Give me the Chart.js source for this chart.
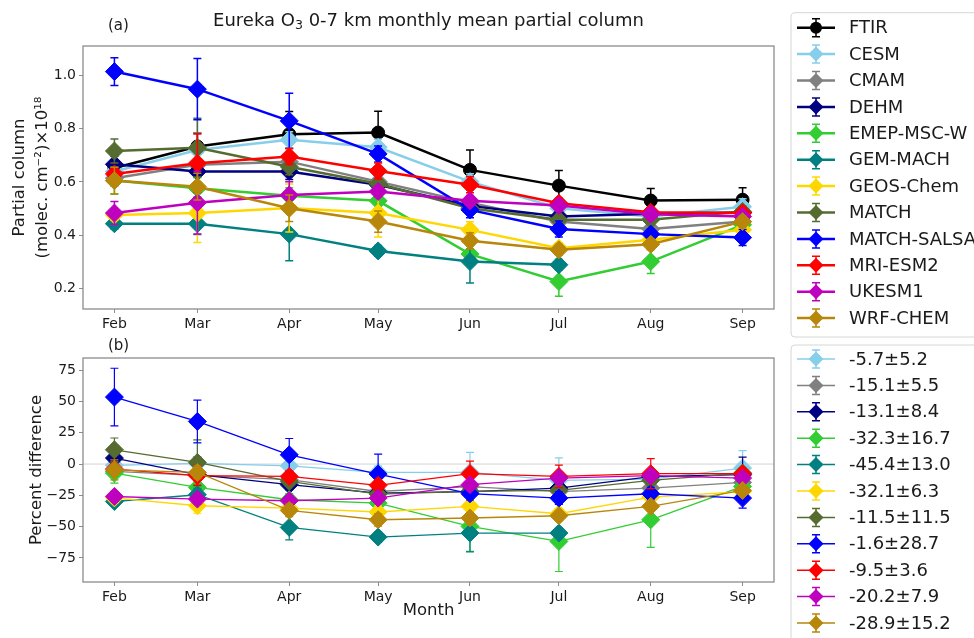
<!DOCTYPE html>
<html>
<head>
<meta charset="utf-8">
<script src="https://cdn.jsdelivr.net/npm/chart.js@4"></script>
<style>
  body { margin: 0; background: #fff; font-family: 'DejaVu Sans', sans-serif; color: #1a1a1a; }
  #wrap { position: relative; width: 974px; height: 638px; overflow: hidden; }
  canvas { position: absolute; left: 0; }
  #top { top: 0; }
  #bottom { top: 340px; }
  .txt { position: absolute; line-height: 1; white-space: nowrap; }
  #title { left: 83px; width: 691px; top: 11px; text-align: center; font-size: 18px; }
  #title sub { font-size: 0.7em; vertical-align: -0.25em; line-height: 0; }
  .panel { left: 108px; font-size: 15px; }
</style>
</head>
<body>
<div id="wrap">
  <canvas id="top" width="974" height="340"></canvas>
  <canvas id="bottom" width="974" height="298"></canvas>
  <div class="txt" id="title">Eureka O<sub>3</sub> 0-7 km monthly mean partial column</div>
  <div class="txt panel" style="top:18px">(a)</div>
  <div class="txt panel" style="top:338px">(b)</div>
</div>
<script>
//****DATA****//

var months = ['Feb', 'Mar', 'Apr', 'May', 'Jun', 'Jul', 'Aug', 'Sep'];
// mid-month day of year
var monthDay = [46, 74, 105, 135, 166, 196, 227, 258];
var colTicks = [0.2, 0.4, 0.6, 0.8, 1.0];
var diffTicks = [-75, -50, -25, 0, 25, 50, 75];

var names = ['FTIR', 'CESM', 'CMAM', 'DEHM', 'EMEP-MSC-W', 'GEM-MACH', 'GEOS-Chem',
  'MATCH', 'MATCH-SALSA', 'MRI-ESM2', 'UKESM1', 'WRF-CHEM'];
var colours = ['#000000', '#87ceeb', '#808080', '#000080', '#32cd32', '#008080', '#ffd700',
  '#556b2f', '#0000ff', '#ff0000', '#bf00bf', '#b8860b'];

// partial column (x1e18 molec/cm2)
var ftirCol  = [0.652, 0.733, 0.779, 0.785, 0.645, 0.586, 0.530, 0.533];
var cesmCol  = [0.639, 0.720, 0.758, 0.730, 0.601, 0.501, 0.470, 0.507];
var cmamCol  = [0.614, 0.664, 0.676, 0.601, 0.522, 0.451, 0.423, 0.451];
var dehmCol  = [0.666, 0.639, 0.639, 0.589, 0.510, 0.470, 0.480, 0.485];
var emepCol  = [0.605, 0.576, 0.548, 0.529, 0.329, 0.226, 0.301, 0.439];
var gemCol   = [0.443, 0.443, 0.404, 0.341, 0.301, 0.289, null, null];
var geosCol  = [0.476, 0.483, 0.502, 0.483, 0.420, 0.351, 0.383, 0.420];
var matchCol = [0.716, 0.728, 0.657, 0.593, 0.501, 0.458, 0.458, 0.489];
var salsaCol = [1.014, 0.948, 0.829, 0.705, 0.495, 0.423, 0.404, 0.391];
var mriCol   = [0.630, 0.670, 0.695, 0.641, 0.589, 0.520, 0.486, 0.483];
var ukesmCol = [0.483, 0.522, 0.551, 0.564, 0.529, 0.511, 0.479, 0.470];
var wrfCol   = [0.605, 0.582, 0.501, 0.451, 0.379, 0.345, 0.366, 0.451];

var ftirColErr  = [0.03, 0.05, 0.085, 0.08, 0.075, 0.057, 0.045, 0.045];
var cesmColErr  = [0.03, 0.12, 0.03, 0.03, 0.03, 0.02, 0.02, 0.03];
var cmamColErr  = [0.03, 0.12, 0.03, 0.02, 0.02, 0.02, 0.02, 0.02];
var dehmColErr  = [0.03, 0.10, 0.03, 0.02, 0.02, 0.02, 0.02, 0.02];
var emepColErr  = [0.05, 0.04, 0.03, 0.03, 0.03, 0.055, 0.045, 0.03];
var gemColErr   = [0.02, 0.04, 0.10, 0.02, 0.08, 0.02, null, null];
var geosColErr  = [0.02, 0.11, 0.09, 0.09, 0.03, 0.02, 0.02, 0.02];
var matchColErr = [0.045, 0.11, 0.03, 0.02, 0.02, 0.02, 0.02, 0.02];
var salsaColErr = [0.052, 0.115, 0.104, 0.03, 0.03, 0.03, 0.02, 0.03];
var mriColErr   = [0.02, 0.11, 0.03, 0.03, 0.03, 0.02, 0.02, 0.02];
var ukesmColErr = [0.043, 0.118, 0.05, 0.02, 0.02, 0.02, 0.02, 0.02];
var wrfColErr   = [0.05, 0.05, 0.05, 0.04, 0.03, 0.02, 0.02, 0.02];

// percent difference from FTIR
var cesmDiff  = [-1.0, 0.5, -1.4, -6.7, -6.7, -13.1, -12.0, -3.2];
var cmamDiff  = [-5.9, -9.0, -12.5, -21.9, -18.0, -22.0, -19.2, -14.7];
var dehmDiff  = [4.8, -8.5, -16.5, -23.2, -22.0, -19.2, -10.0, -8.5];
var emepDiff  = [-7.2, -18.7, -28.5, -31.2, -49.8, -61.8, -44.5, -17.9];
var gemDiff   = [-29.9, -24.5, -50.6, -58.3, -55.1, -55.1, null, null];
var geosDiff  = [-27.0, -33.3, -35.2, -38.3, -33.8, -39.7, -26.4, -22.0];
var matchDiff = [11.4, 1.3, -13.9, -24.0, -21.9, -21.0, -13.0, -7.2];
var salsaDiff = [53.5, 34.0, 7.4, -8.0, -23.7, -27.2, -23.7, -27.2];
var mriDiff   = [-4.0, -9.3, -9.9, -17.0, -7.7, -9.9, -7.7, -7.7];
var ukesmDiff = [-25.9, -28.0, -29.3, -27.2, -16.5, -11.2, -9.3, -11.2];
var wrfDiff   = [-4.6, -6.7, -37.0, -44.5, -43.1, -41.3, -33.8, -21.1];

var cesmDiffErr  = [4, 16, 4, 5, 16, 18, 5, 14];
var cmamDiffErr  = [4, 14, 4, 4, 4, 4, 4, 4];
var dehmDiffErr  = [9, 14, 4, 4, 4, 4, 4, 14];
var emepDiffErr  = [8, 5, 5, 5, 20, 24, 22, 5];
var gemDiffErr   = [4, 5, 10, 4, 15, 4, null, null];
var geosDiffErr  = [4, 6, 5, 5, 4, 4, 4, 4];
var matchDiffErr = [9.4, 18, 4, 4, 4, 4, 4, 4];
var salsaDiffErr = [23, 17, 13, 16, 5, 5, 5, 8];
var mriDiffErr   = [4, 8, 4, 4, 10, 9, 12, 4];
var ukesmDiffErr = [4, 4, 4, 4, 4, 4, 4, 4];
var wrfDiffErr   = [8, 5, 5, 5, 4, 4, 4, 4];

var diffLabels = ['-5.7±5.2', '-15.1±5.5', '-13.1±8.4', '-32.3±16.7', '-45.4±13.0', '-32.1±6.3',
  '-11.5±11.5', '-1.6±28.7', '-9.5±3.6', '-20.2±7.9', '-28.9±15.2'];

var colValues = [ftirCol, cesmCol, cmamCol, dehmCol, emepCol, gemCol, geosCol, matchCol, salsaCol, mriCol, ukesmCol, wrfCol];
var colErrors = [ftirColErr, cesmColErr, cmamColErr, dehmColErr, emepColErr, gemColErr, geosColErr, matchColErr, salsaColErr, mriColErr, ukesmColErr, wrfColErr];
var diffValues = [cesmDiff, cmamDiff, dehmDiff, emepDiff, gemDiff, geosDiff, matchDiff, salsaDiff, mriDiff, ukesmDiff, wrfDiff];
var diffErrors = [cesmDiffErr, cmamDiffErr, dehmDiffErr, emepDiffErr, gemDiffErr, geosDiffErr, matchDiffErr, salsaDiffErr, mriDiffErr, ukesmDiffErr, wrfDiffErr];

//****HELPERS****//

var FONT = 'DejaVu Sans';
var TEXT = '#1a1a1a';
var SPINE = '#8c8c8c';

function makeSets(values, errors, labels, cols, lineWidth) {
  return values.map(function (vals, i) {
    var isCircle = labels[i] === 'FTIR';
    return {
      label: labels[i],
      data: vals.map(function (v, j) { return { x: monthDay[j], y: v }; }),
      errors: errors[i],
      borderColor: cols[i],
      backgroundColor: cols[i],
      pointBackgroundColor: cols[i],
      pointBorderColor: cols[i],
      borderWidth: lineWidth,
      pointBorderWidth: 1,
      pointStyle: isCircle ? 'circle' : 'rectRot',
      pointRadius: isCircle ? 6.5 : 9,
      spanGaps: false,
      order: -i
    };
  });
}

function drawMarker(ctx, style, x, y, r) {
  ctx.beginPath();
  if (style === 'circle') {
    ctx.arc(x, y, r, 0, Math.PI * 2);
  } else {
    ctx.moveTo(x - r, y);
    ctx.lineTo(x, y - r);
    ctx.lineTo(x + r, y);
    ctx.lineTo(x, y + r);
    ctx.closePath();
  }
  ctx.fill();
}

function roundRect(ctx, x, y, w, h, r) {
  ctx.beginPath();
  ctx.moveTo(x + r, y);
  ctx.lineTo(x + w - r, y);
  ctx.arcTo(x + w, y, x + w, y + r, r);
  ctx.lineTo(x + w, y + h - r);
  ctx.arcTo(x + w, y + h, x + w - r, y + h, r);
  ctx.lineTo(x + r, y + h);
  ctx.arcTo(x, y + h, x, y + h - r, r);
  ctx.lineTo(x, y + r);
  ctx.arcTo(x, y, x + r, y, r);
  ctx.closePath();
}

//****PLUGINS****//

var errorBars = {
  id: 'errorBars',
  beforeDatasetDraw: function (chart, args, opts) {
    var ds = chart.data.datasets[args.index];
    var xs = chart.scales.x;
    var ys = chart.scales.y;
    var ctx = chart.ctx;
    ctx.save();
    ctx.strokeStyle = ds.borderColor;
    ctx.lineWidth = opts.width;
    ds.data.forEach(function (p, i) {
      var e = ds.errors[i];
      if (p.y === null || e === null) return;
      var px = xs.getPixelForValue(p.x);
      var hi = ys.getPixelForValue(p.y + e);
      var lo = ys.getPixelForValue(p.y - e);
      ctx.beginPath();
      ctx.moveTo(px, hi); ctx.lineTo(px, lo);
      ctx.moveTo(px - opts.cap, hi); ctx.lineTo(px + opts.cap, hi);
      ctx.moveTo(px - opts.cap, lo); ctx.lineTo(px + opts.cap, lo);
      ctx.stroke();
    });
    ctx.restore();
  }
};

var frame = {
  id: 'frame',
  beforeDatasetsDraw: function (chart, args, opts) {
    var a = chart.chartArea;
    var ctx = chart.ctx;
    ctx.save();
    if (opts.zeroLine) {
      var y0 = chart.scales.y.getPixelForValue(0);
      ctx.strokeStyle = '#d3d3d3';
      ctx.lineWidth = 1;
      ctx.beginPath();
      ctx.moveTo(a.left, y0); ctx.lineTo(a.right, y0);
      ctx.stroke();
    }
    ctx.strokeStyle = SPINE;
    ctx.lineWidth = 1.3;
    ctx.strokeRect(a.left, a.top, a.right - a.left, a.bottom - a.top);
    ctx.restore();
  }
};

var sideLegend = {
  id: 'sideLegend',
  afterDraw: function (chart, args, opts) {
    var ctx = chart.ctx;
    var sets = chart.data.datasets;
    ctx.save();
    roundRect(ctx, opts.x, opts.y, opts.w, opts.h, 4);
    ctx.fillStyle = 'rgba(255,255,255,0.8)';
    ctx.fill();
    ctx.strokeStyle = '#d6d6d6';
    ctx.lineWidth = 1;
    ctx.stroke();
    ctx.font = '18px "' + FONT + '"';
    ctx.textBaseline = 'middle';
    sets.forEach(function (ds, i) {
      var y = opts.firstY + i * opts.step;
      var cx = opts.x + 25;
      ctx.strokeStyle = ds.borderColor;
      ctx.fillStyle = ds.borderColor;
      ctx.lineWidth = opts.lineWidth;
      ctx.beginPath();
      ctx.moveTo(opts.x + 6, y); ctx.lineTo(opts.x + 44, y);
      ctx.stroke();
      ctx.lineWidth = 1.5;
      ctx.beginPath();
      ctx.moveTo(cx, y - 9); ctx.lineTo(cx, y + 9);
      ctx.moveTo(cx - 4, y - 9); ctx.lineTo(cx + 4, y - 9);
      ctx.moveTo(cx - 4, y + 9); ctx.lineTo(cx + 4, y + 9);
      ctx.stroke();
      drawMarker(ctx, ds.pointStyle, cx, y, ds.pointStyle === 'circle' ? 6 : 7.5);
      ctx.fillStyle = TEXT;
      ctx.fillText(opts.labels[i], opts.x + 58, y + 1);
    });
    ctx.restore();
  }
};

//****AXES****//

function monthAxis(height, title) {
  return {
    type: 'linear',
    min: 35.4,
    max: 268.6,
    afterFit: function (s) { s.height = height; },
    afterBuildTicks: function (s) {
      s.ticks = monthDay.map(function (v) { return { value: v }; });
    },
    ticks: {
      autoSkip: false,
      maxRotation: 0,
      padding: 3,
      color: TEXT,
      font: { family: FONT, size: 14 },
      callback: function (v) { return months[monthDay.indexOf(v)]; }
    },
    grid: { drawOnChartArea: false, drawTicks: true, tickLength: 4, color: SPINE },
    border: { display: false },
    title: title
  };
}

function valueAxis(min, max, ticks, fmt, title) {
  return {
    type: 'linear',
    min: min,
    max: max,
    afterFit: function (s) { s.width = 83; },
    afterBuildTicks: function (s) {
      s.ticks = ticks.map(function (v) { return { value: v }; });
    },
    ticks: {
      padding: 3,
      color: TEXT,
      font: { family: FONT, size: 14 },
      callback: fmt
    },
    grid: { drawOnChartArea: false, drawTicks: true, tickLength: 4, color: SPINE },
    border: { display: false },
    title: title
  };
}

//****CHARTS****//

Chart.defaults.font.family = FONT;

var topChart = new Chart(document.getElementById('top').getContext('2d'), {
  type: 'line',
  data: { datasets: makeSets(colValues, colErrors, names, colours, 2.5) },
  options: {
    responsive: false,
    animation: false,
    layout: { padding: { left: 0, right: 200, top: 46, bottom: 0 } },
    scales: {
      x: monthAxis(31, { display: false }),
      y: valueAxis(0.123, 1.110, colTicks, function (v) { return v.toFixed(1); }, {
        display: true,
        text: ['Partial column', '(molec. cm\u207B\u00B2)\u00D710\u00B9\u2078'],
        color: TEXT,
        font: { family: FONT, size: 16.5, lineHeight: 1.4 },
        padding: { top: 8 }
      })
    },
    plugins: {
      legend: { display: false },
      tooltip: { enabled: false },
      errorBars: { width: 1.5, cap: 4 },
      frame: { zeroLine: false },
      sideLegend: { x: 791, y: 12.7, w: 200, h: 324.3, firstY: 27.7, step: 26.4, lineWidth: 2.5, labels: names }
    }
  },
  plugins: [frame, errorBars, sideLegend]
});

var bottomChart = new Chart(document.getElementById('bottom').getContext('2d'), {
  type: 'line',
  data: { datasets: makeSets(diffValues, diffErrors, names.slice(1), colours.slice(1), 1.3) },
  options: {
    responsive: false,
    animation: false,
    layout: { padding: { left: 0, right: 200, top: 18, bottom: 0 } },
    scales: {
      x: monthAxis(56, {
        display: true,
        text: 'Month',
        color: TEXT,
        font: { family: FONT, size: 16.5 },
        padding: { bottom: 17 }
      }),
      y: valueAxis(-94.2, 84.7, diffTicks, function (v) { return v < 0 ? '\u2212' + Math.abs(v) : String(v); }, {
        display: true,
        text: 'Percent difference',
        color: TEXT,
        font: { family: FONT, size: 16.5 },
        padding: { top: 27 }
      })
    },
    plugins: {
      legend: { display: false },
      tooltip: { enabled: false },
      errorBars: { width: 1.2, cap: 4 },
      frame: { zeroLine: true },
      sideLegend: { x: 791, y: 5, w: 200, h: 310, firstY: 19, step: 26.4, lineWidth: 1.5, labels: diffLabels }
    }
  },
  plugins: [frame, errorBars, sideLegend]
});
</script>
</body>
</html>
